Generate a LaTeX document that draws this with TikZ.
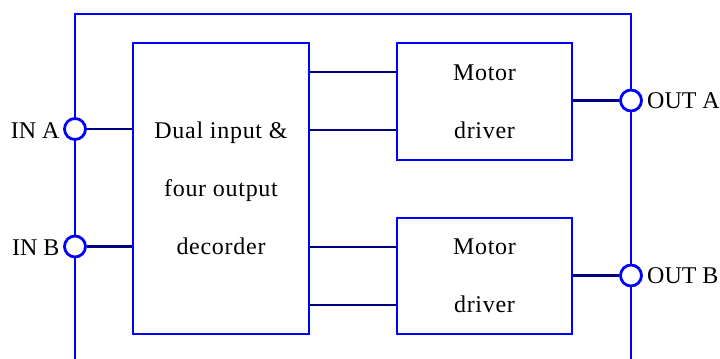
\documentclass[tikz,border=0pt]{standalone}
\usepackage{fontspec}
\setmainfont{Liberation Serif}
\newfontfamily\boxfont[LetterSpace=3]{Liberation Serif}
\begin{document}
\begin{tikzpicture}[x=0.75pt,y=-0.75pt,
  frame/.style={draw=blue,line width=2.1pt},
  blockbox/.style={draw=blue,line width=2.1pt,align=center,inner sep=0pt,
    font={\boxfont\fontsize{18}{43.5}\selectfont}},
  port/.style={circle,draw=blue,line width=2.1pt,fill=white,inner sep=0pt,minimum size=15.75pt},
  wire/.style={draw={rgb,255:red,0;green,0;blue,128},line width=1.9pt},
  lbl/.style={font={\fontsize{18}{20}\selectfont},inner sep=0pt}]
\useasboundingbox (0,0) rectangle (720,359);
\draw[frame] (75,362) -- (75,14) -- (631,14) -- (631,362);
\node[blockbox,minimum width=132pt,minimum height=218.25pt] (dec) at (221,188.5) {Dual input \&\\four output\\decorder};
\node[blockbox,minimum width=131.25pt,minimum height=87.75pt] (mA) at (484.5,101.5) {Motor\\driver};
\node[blockbox,minimum width=131.25pt,minimum height=87pt] (mB) at (484.5,276) {Motor\\driver};
\node[port] (inA) at (75,129) {};
\node[port] (inB) at (75,246.5) {};
\node[port] (outA) at (631,100.5) {};
\node[port] (outB) at (631,275.5) {};
\node[lbl,anchor=east] (linA) at ([xshift=-2.5pt,yshift=-1pt]inA.west) {IN A};
\node[lbl,anchor=east] (linB) at ([xshift=-2.5pt,yshift=-1pt]inB.west) {IN B};
\node[lbl,anchor=west] (loutA) at ([xshift=3pt,yshift=-0.5pt]outA.east) {OUT A};
\node[lbl,anchor=west] (loutB) at ([xshift=3pt,yshift=-0.5pt]outB.east) {OUT B};
\draw[wire] (inA.east) -- (dec.west |- inA.east);
\draw[wire] (inB.east) -- (dec.west |- inB.east);
\draw[wire] (dec.east |- 0,72) -- (mA.west |- 0,72);
\draw[wire] (dec.east |- 0,130) -- (mA.west |- 0,130);
\draw[wire] (dec.east |- 0,247) -- (mB.west |- 0,247);
\draw[wire] (dec.east |- 0,305) -- (mB.west |- 0,305);
\draw[wire] (mA.east |- outA.west) -- (outA.west);
\draw[wire] (mB.east |- outB.west) -- (outB.west);
\end{tikzpicture}
\end{document}
